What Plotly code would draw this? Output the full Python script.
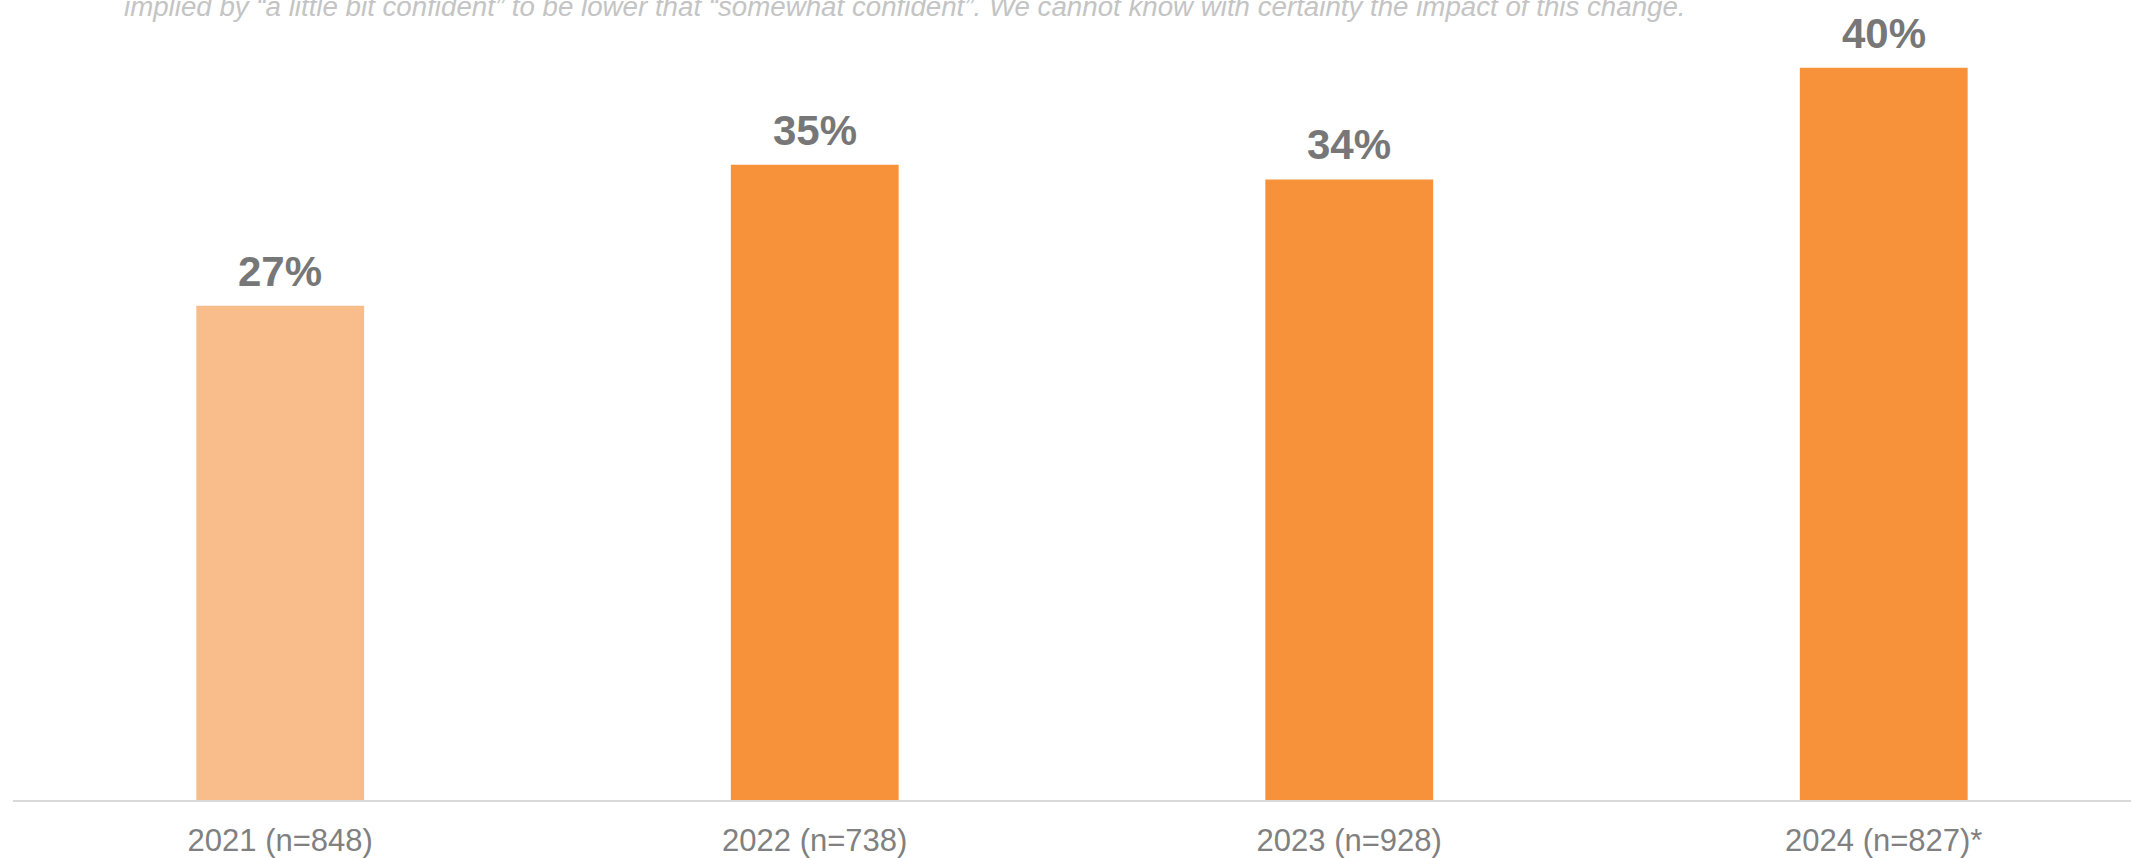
import plotly.graph_objects as go

categories = ["2021 (n=848)", "2022 (n=738)", "2023 (n=928)", "2024 (n=827)*"]
values = [27, 34.7, 33.9, 40]
labels = ["27%", "35%", "34%", "40%"]
bar_colors = ["#F9BD8B", "#F7923A", "#F7923A", "#F7923A"]
note = ("implied by \u201ca little bit confident\u201d to be lower that \u201csomewhat confident\u201d. "
        "We cannot know with certainty the impact of this change.")

W, H = 2131, 858
ML, MR, MT, MB = 13, 0, 0, 52

fig = go.Figure()
fig.add_trace(go.Bar(
    x=list(range(len(categories))), y=values,
    marker=dict(color=bar_colors, line=dict(width=0)),
    width=0.314, hoverinfo="skip",
))

for i, (v, t) in enumerate(zip(values, labels)):
    fig.add_annotation(x=i, y=v, xref="x", yref="y", text="<b>%s</b>" % t,
                       showarrow=False, yanchor="bottom", yshift=9,
                       font=dict(family="Liberation Sans, Arial", size=42, color="#777777"))

fig.add_annotation(x=(905 - ML) / (W - ML - MR), y=1, xref="paper", yref="paper",
                   text="<i>%s</i>" % note, showarrow=False, xanchor="center",
                   yanchor="bottom", yshift=-24,
                   font=dict(family="Liberation Sans, Arial", size=27.7, color="#C4C4C4"))

fig.update_layout(
    width=W, height=H,
    margin=dict(l=ML, r=MR, t=MT, b=MB, pad=0),
    paper_bgcolor="white", plot_bgcolor="white",
    showlegend=False,
    xaxis=dict(
        range=[-0.5, 3.4626], tickmode="array",
        tickvals=list(range(len(categories))), ticktext=categories,
        showgrid=False, zeroline=False,
        showline=True, linecolor="#D9D9D9", linewidth=1.5,
        ticks="outside", ticklen=12, tickcolor="rgba(0,0,0,0)",
        tickfont=dict(family="Liberation Sans, Arial", size=31, color="#808080"),
    ),
    yaxis=dict(range=[0, 43.7], visible=False, showgrid=False, zeroline=False),
)

fig.write_html("out.html", config={"displayModeBar": False},
               post_script="document.body.style.margin='0';document.body.style.overflow='hidden';")
